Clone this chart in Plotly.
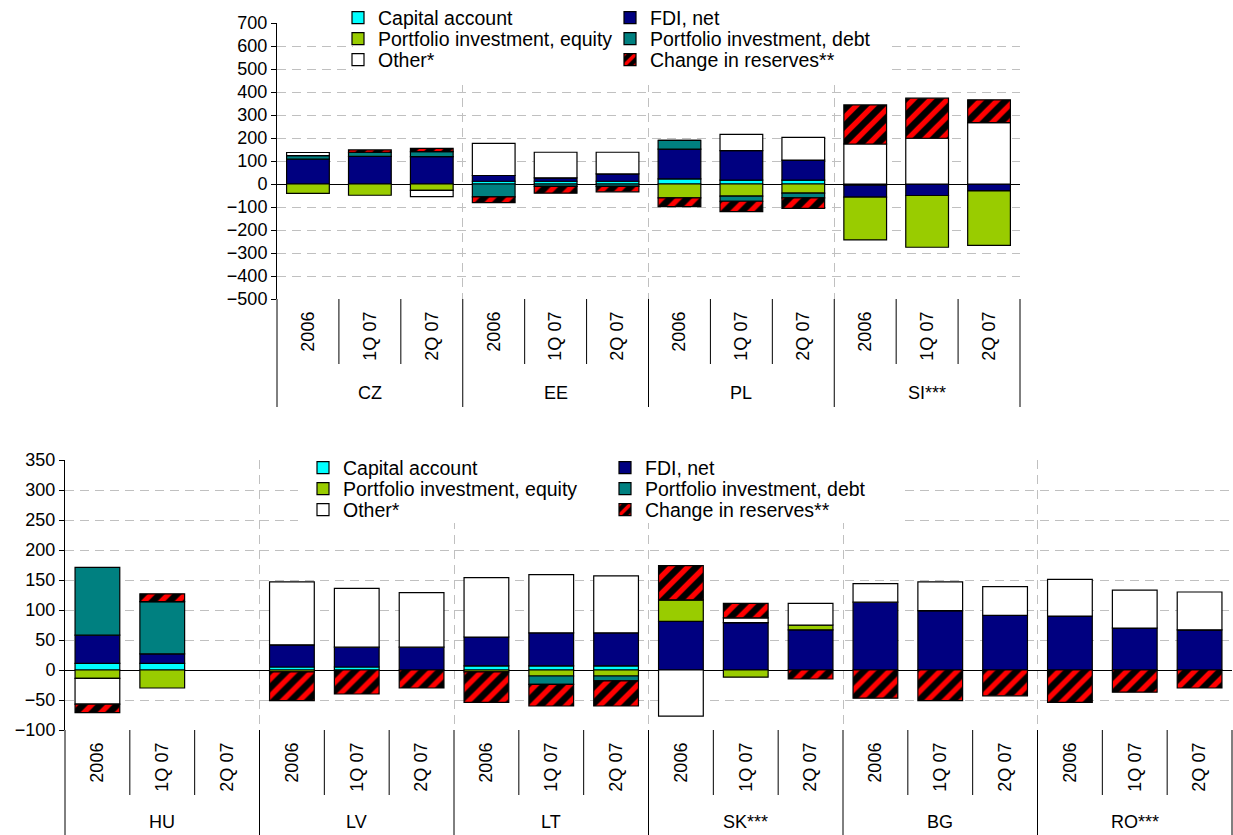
import numpy as np
import plotly.graph_objects as go

W, H = 1233, 835
FONT = "Liberation Sans, Arial, sans-serif"
GRID = "#C0C0C0"
DASH = "9px,6px"

periods = ["2006", "1Q 07", "2Q 07"]
series = ["Capital account", "FDI, net", "Portfolio investment, equity",
          "Portfolio investment, debt", "Other*", "Change in reserves**"]

# upper panel
top_countries = ["CZ", "EE", "PL", "SI***"]
top_capital = [0, 0, 0, 12, 12, 12, 22, 17, 17, -5, 0, 0]
top_fdi = [108, 120, 119, 25, 15, 32, 130, 128, 87, -52, -50, -30]
top_equity = [-41, -49, -28, 0, 0, 0, -60, -53, -40, -186, -225, -237]
top_debt = [15, 18, 22, -56, -10, -10, 38, -22, -20, 0, 0, 0]
top_other = [14, 0, -27, 140, 111, 94, 0, 71, 99, 174, 199, 267]
top_reserves = [0, 10, 14, -25, -30, -24, -38, -45, -46, 170, 174, 99]

# lower panel
bottom_countries = ["HU", "LV", "LT", "SK***", "BG", "RO***"]
bottom_capital = [11, 11, None, 5, 5, 0, 7, 7, 7, 0, 0, 0, 0, 0, 0, 0, 0, 0]
bottom_fdi = [47, 16, None, 37, 33, 38, 48, 55, 55, 81, 79, 67, 113, 99, 91, 90, 70, 67]
bottom_equity = [-14, -30, None, -3, 0, 0, -3, -10, -10, 36, -12, 8, 0, 0, 0, 0, 0, 0]
bottom_debt = [113, 87, None, 0, 0, 0, 0, -14, -8, 0, 0, 0, 0, 0, 0, 0, 0, 0]
bottom_other = [-43, 0, None, 105, 98, 91, 99, 97, 95, -77, 8, 36, 31, 48, 48, 61, 63, 63]
bottom_reserves = [-14, 13, None, -48, -40, -30, -51, -36, -42, 57, 24, -15, -47, -51, -43, -54, -37, -30]

FILLS = ["#00FFFF", "#000080", "#99CC00", "#008080", "#FFFFFF", None]


def marker_for(k):
    line = dict(color="black", width=1.2)
    if FILLS[k] is None:
        return dict(color="black", line=line,
                    pattern=dict(shape="/", fgcolor="#FF0000", bgcolor="black",
                                 size=12, solidity=0.45, fillmode="replace"))
    return dict(color=FILLS[k], line=line)


def px_x(px):
    return px / W


def px_y(py):
    return 1 - py / H


panels = [
    dict(countries=top_countries,
         data=[top_capital, top_fdi, top_equity, top_debt, top_other, top_reserves],
         xa="x", ya="y",
         xpx=(277, 1020), ypx=(23, 299), yrange=(-500, 700), dtick=100,
         short=65, long=108, country_off=94,
         leg_cols=(379, 651), leg_rows=(18, 39, 60), cover=(353, 890, 0, 85)),
    dict(countries=bottom_countries,
         data=[bottom_capital, bottom_fdi, bottom_equity, bottom_debt, bottom_other, bottom_reserves],
         xa="x2", ya="y2",
         xpx=(65, 1232), ypx=(460, 730), yrange=(-100, 350), dtick=50,
         short=65, long=110, country_off=92,
         leg_cols=(344, 646), leg_rows=(468, 489, 510), cover=(298, 900, 440, 523)),
]

fig = go.Figure()
layout = dict(width=W, height=H, margin=dict(l=0, r=0, t=0, b=0, autoexpand=False),
              paper_bgcolor="white", plot_bgcolor="white",
              barmode="relative", bargap=0.31, showlegend=True,
              font=dict(family=FONT, size=18, color="black"))
shapes, annotations = [], []
legend_no = 0

for p in panels:
    ng, npd = len(p["countries"]), len(periods)
    n = ng * npd
    idx = np.arange(n)
    for k, name in enumerate(series):
        legend_no += 1
        lid = "legend" if legend_no == 1 else f"legend{legend_no}"
        fig.add_trace(go.Bar(x=idx, y=p["data"][k], name=name, marker=marker_for(k),
                             xaxis=p["xa"], yaxis=p["ya"], legend=lid,
                             hoverinfo="skip"))
        tx = p["leg_cols"][k % 2]
        ty = p["leg_rows"][k // 2]
        layout[lid] = dict(x=px_x(tx - 41), y=px_y(ty), xanchor="left", yanchor="middle",
                           bgcolor="rgba(0,0,0,0)", borderwidth=0,
                           font=dict(family=FONT, size=19.5, color="black"))

    xkey = "xaxis" + p["xa"][1:]
    ykey = "yaxis" + p["ya"][1:]
    group_edges = [g * npd - 0.5 for g in range(1, ng + 1)]
    layout[xkey] = dict(
        domain=[px_x(p["xpx"][0]), px_x(p["xpx"][1])], anchor=p["ya"],
        range=[-0.5, n - 0.5], tickmode="array", tickvals=list(idx),
        ticktext=periods * ng, tickangle=-90, ticks="", showgrid=False,
        showline=False, zeroline=False, ticklabelstandoff=8, automargin=False,
        tickfont=dict(family=FONT, size=18, color="black"),
        minor=dict(tickmode="array", tickvals=group_edges, showgrid=True,
                   gridcolor=GRID, griddash=DASH, gridwidth=1, ticks=""),
    )
    layout[ykey] = dict(
        domain=[px_y(p["ypx"][1]), px_y(p["ypx"][0])], anchor=p["xa"],
        range=list(p["yrange"]), tick0=0, dtick=p["dtick"],
        ticks="outside", ticklen=5, tickcolor="black", tickwidth=1,
        showline=True, linecolor="black", linewidth=1, automargin=False,
        showgrid=True, gridcolor=GRID, griddash=DASH, gridwidth=1,
        zeroline=True, zerolinecolor="black", zerolinewidth=1,
        tickfont=dict(family=FONT, size=18, color="black"),
    )

    # white panel behind the legend hides the grid there
    x0p, x1p, y0p, y1p = p["cover"]
    xs = lambda v: -0.5 + (v - p["xpx"][0]) / (p["xpx"][1] - p["xpx"][0]) * n
    ys = lambda v: p["yrange"][1] - (v - p["ypx"][0]) / (p["ypx"][1] - p["ypx"][0]) * (p["yrange"][1] - p["yrange"][0])
    shapes.append(dict(type="rect", xref=p["xa"], yref=p["ya"], layer="between",
                       x0=xs(x0p), x1=xs(x1p), y0=ys(y1p), y1=ys(y0p),
                       fillcolor="white", line=dict(width=0)))

    # separators under the category axis
    for b in range(n + 1):
        frac = b / n
        length = p["long"] if b % npd == 0 else p["short"]
        shapes.append(dict(type="line", xref=p["xa"] + " domain", yref=p["ya"] + " domain",
                           x0=frac, x1=frac, ysizemode="pixel", yanchor=0, y0=0, y1=-length,
                           line=dict(color="black", width=1)))

    for g, c in enumerate(p["countries"]):
        annotations.append(dict(text=c, xref=p["xa"], yref=p["ya"] + " domain",
                                x=g * npd + (npd - 1) / 2, y=0, yshift=-p["country_off"],
                                yanchor="middle", xanchor="center", showarrow=False,
                                font=dict(family=FONT, size=18, color="black")))

layout["shapes"] = shapes
layout["annotations"] = annotations
fig.update_layout(**layout)
fig.write_html("out.html")
